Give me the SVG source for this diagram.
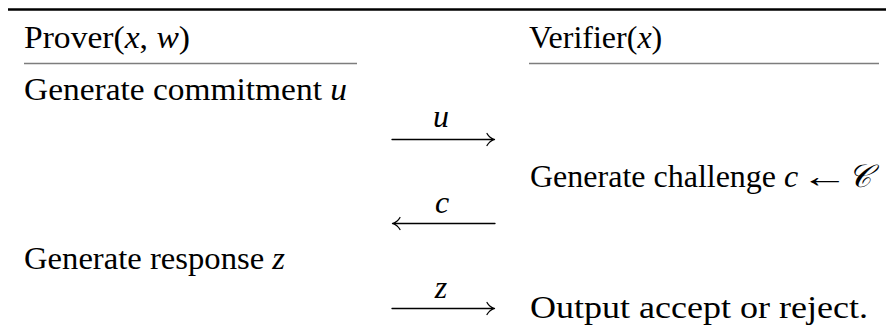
<svg xmlns="http://www.w3.org/2000/svg" width="886" height="331" viewBox="0 0 886 331">
<style>
text{font-family:"Liberation Serif","DejaVu Serif",serif;font-size:32px;fill:#000}
.m{font-style:italic}
.rule{stroke:#000;stroke-width:2.6}
.ul{stroke:#7d7d7d;stroke-width:1.6}
.arr{fill:none;stroke:#000;stroke-width:1.3;stroke-linecap:round;stroke-linejoin:round}
.lbl{text-anchor:middle}
</style>
<rect width="886" height="331" fill="#fff"/>
<line class="rule" x1="8" y1="9.5" x2="886" y2="9.5"/>
<g id="prover-header">
<text x="24" y="48" textLength="166" lengthAdjust="spacingAndGlyphs">Prover(<tspan class="m">x</tspan>, <tspan class="m">w</tspan>)</text>
<line class="ul" x1="24" y1="63.5" x2="357" y2="63.5"/>
</g>
<g id="verifier-header">
<text x="529" y="48">Verifier(<tspan class="m">x</tspan>)</text>
<line class="ul" x1="529" y1="63.5" x2="879" y2="63.5"/>
</g>
<g id="step-commit">
<text x="24" y="100" textLength="323" lengthAdjust="spacingAndGlyphs">Generate commitment <tspan class="m">u</tspan></text>
</g>
<g id="step-challenge">
<text x="530" y="187">Generate challenge <tspan class="m">c</tspan></text>
<text transform="translate(801,187) scale(1.5,1)" x="0" y="0" font-family="'DejaVu Serif',serif">←</text>
<text x="848" y="187" font-family="'DejaVu Serif','Noto Sans',serif" class="m">𝒞</text>
</g>
<g id="step-response">
<text x="24" y="269" textLength="261" lengthAdjust="spacingAndGlyphs">Generate response <tspan class="m">z</tspan></text>
</g>
<g id="step-output">
<text x="530" y="318" textLength="338" lengthAdjust="spacingAndGlyphs">Output accept or reject.</text>
</g>
<g id="connectors">
<g id="msg-u">
<path class="arr" d="M392,139.5 H494.5 M487,133.5 Q489.5,138 494.5,139.5 Q489.5,141 487,145.5"/>
<text class="lbl m" x="441" y="127">u</text>
</g>
<g id="msg-c">
<path class="arr" d="M392.5,223.5 H495 M400,217.5 Q397.5,222 392.5,223.5 Q397.5,225 400,229.5"/>
<text class="lbl m" x="442" y="213">c</text>
</g>
<g id="msg-z">
<path class="arr" d="M392,308.5 H494.5 M487,302.5 Q489.5,307 494.5,308.5 Q489.5,310 487,314.5"/>
<text class="lbl m" x="441" y="298">z</text>
</g>
</g>
</svg>
